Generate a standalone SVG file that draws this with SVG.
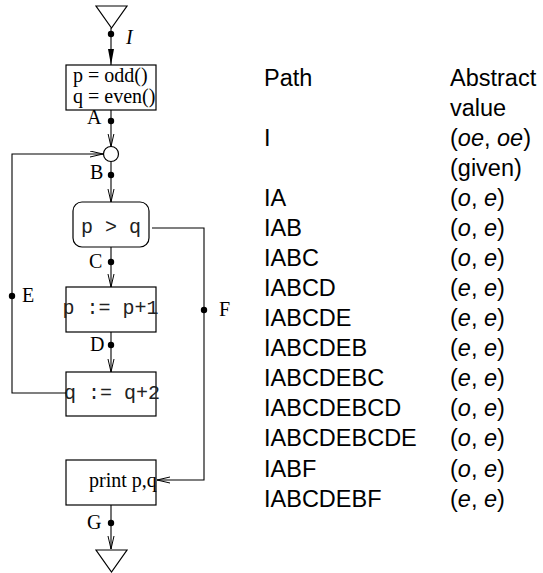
<svg xmlns="http://www.w3.org/2000/svg" width="543" height="573" viewBox="0 0 543 573">
<style>
.box{fill:none;stroke:#000;stroke-width:1.2}
.ln{fill:none;stroke:#000;stroke-width:1.1}
.dot{fill:#000}
.serif{font-family:"Liberation Serif","Times New Roman",serif;font-size:20px;fill:#000}
.mono{font-family:"Liberation Mono","Courier New",monospace;font-size:20px;fill:#222}
.tab{font-family:"Liberation Sans",Arial,sans-serif;font-size:23.5px;fill:#000}
.it{font-style:italic}
</style>
<defs>
<marker id="open" markerUnits="userSpaceOnUse" markerWidth="16" markerHeight="10" refX="13" refY="3.5" orient="auto">
<path d="M0,0.5 L13,3.5 L0,6.5" fill="none" stroke="#000" stroke-width="1"/>
</marker>
<marker id="solid" markerUnits="userSpaceOnUse" markerWidth="18" markerHeight="10" refX="16" refY="3.5" orient="auto">
<path d="M0,0.5 L16,3.5 L0,6.5 Z" fill="#000"/>
</marker>
</defs>

<g id="start">
<polygon class="box" points="96,6 127,6 111.5,28"/>
</g>
<g id="init">
<rect class="box" x="66" y="65" width="90" height="45"/>
<text class="serif" x="73" y="82">p = odd()</text>
<text class="serif" x="73" y="103">q = even()</text>
</g>
<g id="join">
<circle class="box" cx="111" cy="154" r="7.5"/>
</g>
<g id="test">
<rect class="box" x="73" y="202" width="76" height="45" rx="9"/>
<text class="mono" x="111" y="233" text-anchor="middle">p &gt; q</text>
</g>
<g id="incp">
<rect class="box" x="66" y="287" width="90" height="45"/>
<text class="mono" x="62.5" y="314">p := p+1</text>
</g>
<g id="incq">
<rect class="box" x="66" y="372" width="90" height="44"/>
<text class="mono" x="64" y="399">q := q+2</text>
</g>
<g id="print">
<rect class="box" x="66" y="460" width="90" height="45"/>
<text class="serif" x="89" y="487">print p,q</text>
</g>
<g id="end">
<polygon class="box" points="96,550 127,550 111.5,572"/>
</g>

<g id="connectors">
<line class="ln" x1="111" y1="28" x2="111" y2="65" marker-end="url(#solid)"/>
<line class="ln" x1="111" y1="110" x2="111" y2="146.5" marker-end="url(#open)"/>
<line class="ln" x1="111" y1="161.5" x2="111" y2="202" marker-end="url(#open)"/>
<line class="ln" x1="111" y1="247" x2="111" y2="287" marker-end="url(#open)"/>
<line class="ln" x1="111" y1="332" x2="111" y2="372" marker-end="url(#open)"/>
<polyline class="ln" points="66,393 12,393 12,154 103,154" marker-end="url(#open)"/>
<polyline class="ln" points="152,228 204,228 204,480 157,480" marker-end="url(#open)"/>
<line class="ln" x1="111" y1="505" x2="111" y2="549" marker-end="url(#open)"/>
<circle class="dot" cx="111" cy="34" r="3.2"/>
<circle class="dot" cx="111" cy="121" r="3.2"/>
<circle class="dot" cx="111" cy="175" r="3.2"/>
<circle class="dot" cx="111" cy="262" r="3.2"/>
<circle class="dot" cx="111" cy="345" r="3.2"/>
<circle class="dot" cx="12" cy="296" r="3.2"/>
<circle class="dot" cx="204" cy="310" r="3.2"/>
<circle class="dot" cx="111" cy="523" r="3.2"/>
<text class="serif it" x="126" y="44">I</text>
<text class="serif" x="87" y="124">A</text>
<text class="serif" x="90" y="179">B</text>
<text class="serif" x="89" y="268">C</text>
<text class="serif" x="90" y="351">D</text>
<text class="serif" x="22" y="302">E</text>
<text class="serif" x="219" y="316">F</text>
<text class="serif" x="87" y="529">G</text>
</g>

<g id="table">
<text class="tab" x="264" y="86">Path</text>
<text class="tab" x="450" y="86">Abstract</text>
<text class="tab" x="450" y="116">value</text>
<text class="tab" x="264" y="146">I</text>
<text class="tab" x="450" y="146">(<tspan class="it">oe</tspan>, <tspan class="it">oe</tspan>)</text>
<text class="tab" x="450" y="176">(given)</text>
<text class="tab" x="264" y="206">IA</text>
<text class="tab" x="450" y="206">(<tspan class="it">o</tspan>, <tspan class="it">e</tspan>)</text>
<text class="tab" x="264" y="236">IAB</text>
<text class="tab" x="450" y="236">(<tspan class="it">o</tspan>, <tspan class="it">e</tspan>)</text>
<text class="tab" x="264" y="266">IABC</text>
<text class="tab" x="450" y="266">(<tspan class="it">o</tspan>, <tspan class="it">e</tspan>)</text>
<text class="tab" x="264" y="296">IABCD</text>
<text class="tab" x="450" y="296">(<tspan class="it">e</tspan>, <tspan class="it">e</tspan>)</text>
<text class="tab" x="264" y="326">IABCDE</text>
<text class="tab" x="450" y="326">(<tspan class="it">e</tspan>, <tspan class="it">e</tspan>)</text>
<text class="tab" x="264" y="356">IABCDEB</text>
<text class="tab" x="450" y="356">(<tspan class="it">e</tspan>, <tspan class="it">e</tspan>)</text>
<text class="tab" x="264" y="386">IABCDEBC</text>
<text class="tab" x="450" y="386">(<tspan class="it">e</tspan>, <tspan class="it">e</tspan>)</text>
<text class="tab" x="264" y="416">IABCDEBCD</text>
<text class="tab" x="450" y="416">(<tspan class="it">o</tspan>, <tspan class="it">e</tspan>)</text>
<text class="tab" x="264" y="446">IABCDEBCDE</text>
<text class="tab" x="450" y="446">(<tspan class="it">o</tspan>, <tspan class="it">e</tspan>)</text>
<text class="tab" x="264" y="477">IABF</text>
<text class="tab" x="450" y="477">(<tspan class="it">o</tspan>, <tspan class="it">e</tspan>)</text>
<text class="tab" x="264" y="507">IABCDEBF</text>
<text class="tab" x="450" y="507">(<tspan class="it">e</tspan>, <tspan class="it">e</tspan>)</text>
</g>
</svg>
